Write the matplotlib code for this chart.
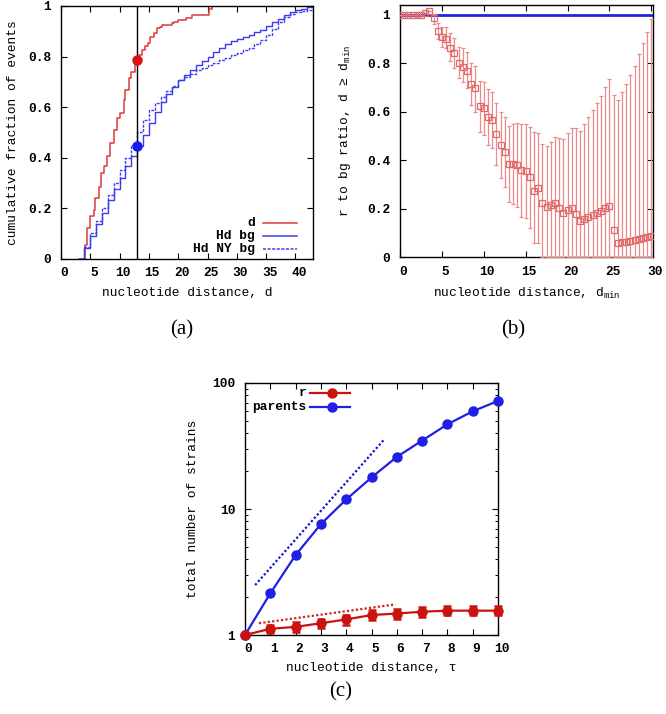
import matplotlib
matplotlib.use('Agg')
import matplotlib.pyplot as plt
import matplotlib.transforms as mtransforms
from matplotlib.ticker import FixedLocator, LogLocator, NullFormatter, FixedFormatter

plt.rcParams['font.family'] = ['Liberation Mono', 'DejaVu Sans Mono']
plt.rcParams['font.weight'] = 'bold'
plt.rcParams['font.size'] = 9.3
plt.rcParams['mathtext.fontset'] = 'custom'
plt.rcParams['mathtext.rm'] = 'Liberation Mono:bold'
plt.rcParams['mathtext.it'] = 'Liberation Mono:bold'
plt.rcParams['mathtext.bf'] = 'Liberation Mono:bold'

# ---------------- Panel (a) data ----------------
red_d_x = [3.0, 4.1, 4.4, 5.0, 5.55, 5.85, 6.4, 6.85, 7.3, 7.85, 8.4, 9.0, 9.55, 10.1, 10.7,
           11.0, 11.55, 11.95, 12.6, 13.25, 13.85, 14.4, 14.8, 15.25, 15.85, 16.4, 16.95,
           17.25, 18.95, 19.25, 20.0, 21.25, 22.4, 25.2, 25.8, 43.0]
red_d_y = [0.0, 0.055, 0.121, 0.167, 0.193, 0.24, 0.285, 0.338, 0.365, 0.404, 0.457, 0.51,
           0.556, 0.576, 0.629, 0.668, 0.714, 0.74, 0.787, 0.806, 0.826, 0.84, 0.853, 0.879,
           0.892, 0.912, 0.918, 0.925, 0.932, 0.938, 0.945, 0.952, 0.965, 0.987, 1.0, 1.0]

bg_x = [3, 4, 5, 6, 7, 8, 9, 10, 11, 12, 13, 14, 15, 16, 17, 18, 19, 20, 21, 22, 23, 24, 25,
        26, 27, 28, 29, 30, 31, 32, 33, 34, 35, 36, 37, 38, 39, 40, 41, 42, 43]
hd_bg_y = [0.0, 0.04, 0.09, 0.135, 0.18, 0.23, 0.275, 0.32, 0.365, 0.405, 0.445, 0.49, 0.535,
           0.58, 0.62, 0.65, 0.68, 0.705, 0.727, 0.747, 0.765, 0.782, 0.8, 0.818, 0.835, 0.848,
           0.86, 0.87, 0.878, 0.887, 0.896, 0.905, 0.92, 0.935, 0.95, 0.963, 0.975, 0.985,
           0.99, 0.995, 1.0]
hd_ny_bg_y = [0.0, 0.045, 0.1, 0.15, 0.2, 0.25, 0.3, 0.35, 0.4, 0.45, 0.5, 0.55, 0.59, 0.615,
              0.64, 0.665, 0.685, 0.705, 0.72, 0.73, 0.745, 0.755, 0.765, 0.775, 0.785, 0.795,
              0.805, 0.815, 0.825, 0.835, 0.85, 0.866, 0.885, 0.91, 0.935, 0.955, 0.967, 0.975,
              0.98, 0.985, 0.988]
cut_d = 13.0
cut_r = 0.787
cut_bg = 0.444

# ---------------- Panel (b) data ----------------
dmin = [0, 0.5, 1, 1.5, 2, 2.5, 3, 3.5, 4, 4.5, 5, 5.5, 6, 6.5, 7, 7.5, 8, 8.5, 9, 9.5, 10,
        10.5, 11, 11.5, 12, 12.5, 13, 13.5, 14, 14.5, 15, 15.5, 16, 16.5, 17, 17.5, 18, 18.5,
        19, 19.5, 20, 20.5, 21, 21.5, 22, 22.5, 23, 23.5, 24, 24.5, 25, 25.5, 26, 26.5, 27,
        27.5, 28, 28.5, 29, 29.5, 30]
ratio = [1, 1, 1, 1, 1, 1, 1.007, 1.018, 0.986, 0.934, 0.911, 0.9, 0.865, 0.845, 0.8, 0.787,
         0.77, 0.717, 0.70, 0.624, 0.615, 0.578, 0.567, 0.509, 0.464, 0.436, 0.384, 0.384,
         0.381, 0.36, 0.356, 0.33, 0.275, 0.285, 0.226, 0.209, 0.216, 0.226, 0.205, 0.184,
         0.194, 0.205, 0.179, 0.15, 0.158, 0.168, 0.175, 0.184, 0.191, 0.202, 0.212, 0.113,
         0.058, 0.062, 0.065, 0.068, 0.072, 0.075, 0.08, 0.085, 0.088]
ratio_hi = [1, 1, 1, 1, 1, 1, 1.007, 1.018, 1.005, 0.968, 0.952, 0.952, 0.924, 0.904, 0.867,
            0.862, 0.849, 0.8, 0.79, 0.728, 0.725, 0.693, 0.683, 0.638, 0.601, 0.58, 0.542,
            0.549, 0.556, 0.55, 0.55, 0.539, 0.516, 0.514, 0.466, 0.459, 0.477, 0.498, 0.494,
            0.487, 0.512, 0.535, 0.532, 0.523, 0.55, 0.58, 0.608, 0.638, 0.667, 0.702, 0.736,
            0.67, 0.649, 0.681, 0.715, 0.752, 0.791, 0.839, 0.883, 0.929, 0.983]
ratio_lo = [1, 1, 1, 1, 1, 1, 1.007, 1.018, 0.963, 0.9, 0.869, 0.862, 0.81, 0.78, 0.739,
            0.725, 0.697, 0.629, 0.601, 0.518, 0.505, 0.463, 0.45, 0.381, 0.326, 0.291, 0.229,
            0.22, 0.209, 0.168, 0.161, 0.12, 0.058, 0.058, 0, 0, 0, 0, 0, 0, 0, 0, 0, 0, 0, 0,
            0, 0, 0, 0, 0, 0, 0, 0, 0, 0, 0, 0, 0, 0, 0]
bg_ratio = 1.0

# ---------------- Panel (c) data ----------------
tau = [0, 1, 2, 3, 4, 5, 6, 7, 8, 9, 10]
parents = [1, 2.14, 4.31, 7.59, 11.9, 17.8, 25.9, 34.9, 47, 59.6, 72]
r_strains = [1, 1.12, 1.16, 1.24, 1.33, 1.44, 1.48, 1.53, 1.56, 1.56, 1.56]
r_err = [0, 0.09, 0.1, 0.11, 0.12, 0.13, 0.13, 0.13, 0.13, 0.13, 0.13]
parents_fit_x = [0.4, 5.5]
parents_fit_y = [2.49, 35.6]
r_fit_x = [0.55, 5.95]
r_fit_y = [1.24, 1.75]

W, H = 666, 714
fig = plt.figure(figsize=(W / 100, H / 100), dpi=100)


def rect(l, t, r, b):
    return [l / W, 1 - b / H, (r - l) / W, (b - t) / H]


def style(ax):
    ax.tick_params(direction='in', top=True, right=True, length=4, width=0.8,
                   labelsize=9.3, pad=6)
    ax.tick_params(axis='y', pad=7)
    for s in ax.spines.values():
        s.set_linewidth(1.0)


def shift_xlabels(ax, dx=3.5):
    off = mtransforms.ScaledTranslation(dx / 100, 0, fig.dpi_scale_trans)
    for lab in ax.xaxis.get_majorticklabels():
        lab.set_transform(lab.get_transform() + off)


RED_A = '#dd3a3a'
BLUE_A = '#3c3cee'

# ---------------- Panel (a) ----------------
axa = fig.add_axes(rect(61, 6, 313, 258.5))
style(axa)
axa.plot(red_d_x, red_d_y, drawstyle='steps-post', color=RED_A, lw=1.1)
axa.plot(bg_x, hd_bg_y, drawstyle='steps-post', color=BLUE_A, lw=1.0)
axa.plot(bg_x, hd_ny_bg_y, drawstyle='steps-post', color=BLUE_A, lw=1.0, ls=(0, (2, 1)))
axa.axvline(cut_d, color='black', lw=1.0)
axa.plot([cut_d], [cut_r], 'o', color='#dd1111', ms=6.5, zorder=5)
axa.plot([cut_d], [cut_bg], 'o', color='#1a1aee', ms=6.5, zorder=5)
axa.set_xlim(0, 43)
axa.set_ylim(0, 1)
axa.xaxis.set_major_locator(FixedLocator([0, 5, 10, 15, 20, 25, 30, 35, 40]))
axa.yaxis.set_major_locator(FixedLocator([0, 0.2, 0.4, 0.6, 0.8, 1.0]))
axa.yaxis.set_major_formatter(FixedFormatter(['0', '0.2', '0.4', '0.6', '0.8', '1']))
axa.set_xlabel('nucleotide distance, d')
axa.xaxis.label.set_va('center')
axa.xaxis.set_label_coords(0.5, -0.135)
axa.set_ylabel('cumulative fraction of events')
axa.yaxis.label.set_va('center')
axa.yaxis.set_label_coords(-0.192, 0.5)
# key (gnuplot style: text right-aligned, sample on the right)
for yk, lab, ls in [(0.1416, 'd', '-'), (0.09, 'Hd bg', '-'), (0.0376, 'Hd NY bg', (0, (2, 1)))]:
    c = RED_A if lab == 'd' else BLUE_A
    axa.plot([0.802, 0.937], [yk, yk], color=c, lw=1.1, ls=ls, transform=axa.transAxes)
    axa.text(0.77, yk, lab, transform=axa.transAxes, ha='right', va='center')
shift_xlabels(axa)

# ---------------- Panel (b) ----------------
axb = fig.add_axes(rect(400, 5, 653, 257.3))
style(axb)
axb.axhline(bg_ratio, color='#2424e0', lw=2.0, zorder=3)
err_lo = [v - lo for v, lo in zip(ratio, ratio_lo)]
err_hi = [hi - v for v, hi in zip(ratio, ratio_hi)]
axb.errorbar(dmin, ratio, yerr=[err_lo, err_hi], fmt='s', mfc='none', mec='#e06a6a',
             ms=3.8, mew=0.9, ecolor='#ea8a8a', elinewidth=0.9, capsize=1.6, capthick=0.9,
             zorder=4)
axb.set_xlim(0, 30.2)
axb.set_ylim(0, 1.041)
axb.xaxis.set_major_locator(FixedLocator([0, 5, 10, 15, 20, 25, 30]))
axb.yaxis.set_major_locator(FixedLocator([0, 0.2, 0.4, 0.6, 0.8, 1.0]))
axb.yaxis.set_major_formatter(FixedFormatter(['0', '0.2', '0.4', '0.6', '0.8', '1']))
axb.set_xlabel(r'nucleotide distance, d$_\mathregular{min}$')
axb.xaxis.label.set_va('center')
axb.xaxis.set_label_coords(0.5, -0.145)
axb.set_ylabel(r'r to bg ratio, d ≥ d$_\mathregular{min}$')
axb.yaxis.label.set_va('center')
axb.yaxis.set_label_coords(-0.217, 0.5)
shift_xlabels(axb)

# ---------------- Panel (c) ----------------
RED_C = '#cc1111'
BLUE_C = '#1f1fe6'
axc = fig.add_axes(rect(245, 383, 498, 635))
style(axc)
axc.set_yscale('log')
axc.plot(parents_fit_x, parents_fit_y, color='#1515cc', lw=1.6, ls=(0, (1, 1)))
axc.plot(r_fit_x, r_fit_y, color='#cc2222', lw=1.6, ls=(0, (1, 1)))
axc.plot(tau, parents, '-o', color=BLUE_C, lw=1.6, ms=6.5, clip_on=False, zorder=4)
axc.errorbar(tau, r_strains, yerr=r_err, fmt='-o', color=RED_C, lw=1.6, ms=6.5,
             elinewidth=1.8, capsize=3, capthick=1.8, clip_on=False, zorder=5)
axc.set_xlim(0, 10)
axc.set_ylim(1, 100)
axc.xaxis.set_major_locator(FixedLocator(list(range(11))))
axc.yaxis.set_major_locator(FixedLocator([1, 10, 100]))
axc.yaxis.set_major_formatter(FixedFormatter(['1', '10', '100']))
axc.yaxis.set_minor_locator(LogLocator(base=10, subs=[2, 3, 4, 5, 6, 7, 8, 9]))
axc.yaxis.set_minor_formatter(NullFormatter())
axc.tick_params(which='minor', direction='in', length=2.2, width=0.7, left=True, right=True)
axc.set_xlabel('nucleotide distance, τ')
axc.xaxis.label.set_va('center')
axc.xaxis.set_label_coords(0.5, -0.131)
axc.set_ylabel('total number of strains')
axc.yaxis.label.set_va('center')
axc.yaxis.set_label_coords(-0.206, 0.5)
for yk, lab, c in [(0.959, 'r', RED_C), (0.906, 'parents', BLUE_C)]:
    axc.plot([0.257, 0.415], [yk, yk], color=c, lw=1.6, transform=axc.transAxes)
    axc.plot([0.344], [yk], 'o', color=c, ms=6.5, transform=axc.transAxes)
    axc.text(0.244, yk, lab, transform=axc.transAxes, ha='right', va='center')
shift_xlabels(axc)

# panel letters
for (px, py, s) in [(181.7, 330, '(a)'), (513, 330, '(b)'), (341, 692, '(c)')]:
    fig.text(px / W, 1 - py / H, s, ha='center', va='center',
             family='Liberation Serif', fontweight='normal', fontsize=15)

fig.savefig('out.png', dpi=100)
